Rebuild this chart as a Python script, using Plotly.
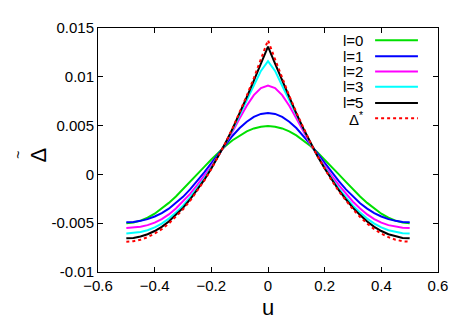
import plotly.graph_objects as go

# values for u >= 0 (curves are symmetric in u)
u_half = [0.0, 0.025, 0.05, 0.075, 0.1, 0.125, 0.15, 0.175, 0.2, 0.225, 0.25,
          0.275, 0.3, 0.325, 0.35, 0.375, 0.4, 0.425, 0.45, 0.475, 0.5]

l0_half = [0.00495, 0.00489, 0.00471, 0.00441, 0.00400, 0.00350, 0.00291, 0.00225,
           0.00153, 0.00077, 0.00000, -0.00077, -0.00153, -0.00226, -0.00292,
           -0.00352, -0.00403, -0.00444, -0.00474, -0.00492, -0.00500]
l1_half = [0.00630, 0.00620, 0.00589, 0.00540, 0.00475, 0.00396, 0.00308, 0.00213,
           0.00116, 0.00021, -0.00070, -0.00154, -0.00230, -0.00295, -0.00351,
           -0.00396, -0.00431, -0.00458, -0.00476, -0.00487, -0.00490]
l2_half = [0.00910, 0.00884, 0.00812, 0.00703, 0.00574, 0.00439, 0.00310, 0.00192,
           0.00086, -0.00014, -0.00110, -0.00200, -0.00280, -0.00350, -0.00410,
           -0.00458, -0.00494, -0.00520, -0.00537, -0.00547, -0.00550]
l3_half = [0.01160, 0.01060, 0.00908, 0.00760, 0.00608, 0.00458, 0.00318, 0.00188,
           0.00069, -0.00042, -0.00145, -0.00236, -0.00320, -0.00391, -0.00453,
           -0.00504, -0.00543, -0.00572, -0.00591, -0.00602, -0.00606]
l5_half = [0.01310, 0.01134, 0.00961, 0.00791, 0.00626, 0.00469, 0.00322, 0.00186,
           0.00060, -0.00057, -0.00162, -0.00257, -0.00343, -0.00417, -0.00483,
           -0.00537, -0.00580, -0.00613, -0.00636, -0.00651, -0.00655]
dstar_half = [0.01375, 0.01178, 0.00987, 0.00806, 0.00635, 0.00474, 0.00324, 0.00185,
              0.00055, -0.00064, -0.00173, -0.00271, -0.00359, -0.00436, -0.00504,
              -0.00561, -0.00607, -0.00643, -0.00669, -0.00685, -0.00690]

labels = ["l=0", "l=1", "l=2", "l=3", "l=5", "Δ<sup>*</sup>"]
colors = ["#00e000", "#0000ff", "#ff00ff", "#00ffff", "#000000", "#ff0000"]
dashes = ["solid", "solid", "solid", "solid", "solid", "dot"]

x_ticks = [-0.6, -0.4, -0.2, 0, 0.2, 0.4, 0.6]
y_ticks = [-0.01, -0.005, 0, 0.005, 0.01, 0.015]
y_ticktext = ["-0.01", "-0.005", "0", "0.005", "0.01", "0.015"]


def mirror(half):
    return half[:0:-1] + half


u = [-v for v in u_half[:0:-1]] + u_half
series = [l0_half, l1_half, l2_half, l3_half, l5_half, dstar_half]

fig = go.Figure()
for vals, col, dash in zip(series, colors, dashes):
    fig.add_trace(go.Scatter(x=u, y=mirror(vals), mode="lines",
                             line=dict(color=col, width=2, dash=dash),
                             showlegend=False))

# gnuplot-style key: text right-aligned, sample line to its right
key_y = [0.950, 0.884, 0.822, 0.759, 0.693, 0.630]
for lab, col, dash, ky in zip(labels, colors, dashes, key_y):
    fig.add_annotation(x=0.785, y=ky, xref="paper", yref="paper", text=lab,
                       showarrow=False, xanchor="right", yanchor="middle",
                       font=dict(size=15, color="black"))
    fig.add_shape(type="line", xref="paper", yref="paper", x0=0.815, x1=0.941,
                  y0=ky, y1=ky, line=dict(color=col, width=2, dash=dash))
# stray tilde of the Delta* key label
fig.add_annotation(x=0.752, y=0.705, xref="paper", yref="paper", text="~",
                   showarrow=False, xanchor="center", yanchor="middle",
                   font=dict(size=12, color="black"))

# y-axis label: rotated tilde-Delta
fig.add_annotation(x=-0.175, y=0.48, xref="paper", yref="paper", text="Δ",
                   textangle=-90, showarrow=False, xanchor="center", yanchor="middle",
                   font=dict(size=22, color="black"))
fig.add_annotation(x=-0.236, y=0.48, xref="paper", yref="paper", text="~",
                   textangle=-90, showarrow=False, xanchor="center", yanchor="middle",
                   font=dict(size=14, color="black"))

axis_common = dict(showline=True, linecolor="black", linewidth=1, mirror="allticks",
                   ticks="inside", ticklen=5, tickcolor="black", showgrid=False,
                   zeroline=False, tickfont=dict(size=15, color="black"))

# margins compensate for the 8px body margin of the html page
fig.update_layout(
    width=467, height=327,
    margin=dict(l=90, r=37, t=11, b=63),
    paper_bgcolor="white", plot_bgcolor="white",
    font=dict(family="Liberation Sans, Arial, sans-serif", color="black"),
    xaxis=dict(range=[-0.6, 0.6], tickvals=x_ticks,
               title=dict(text="u", font=dict(size=22), standoff=6), **axis_common),
    yaxis=dict(range=[-0.01, 0.015], tickvals=y_ticks, ticktext=y_ticktext,
               **axis_common),
)

fig.write_html("out.html")
